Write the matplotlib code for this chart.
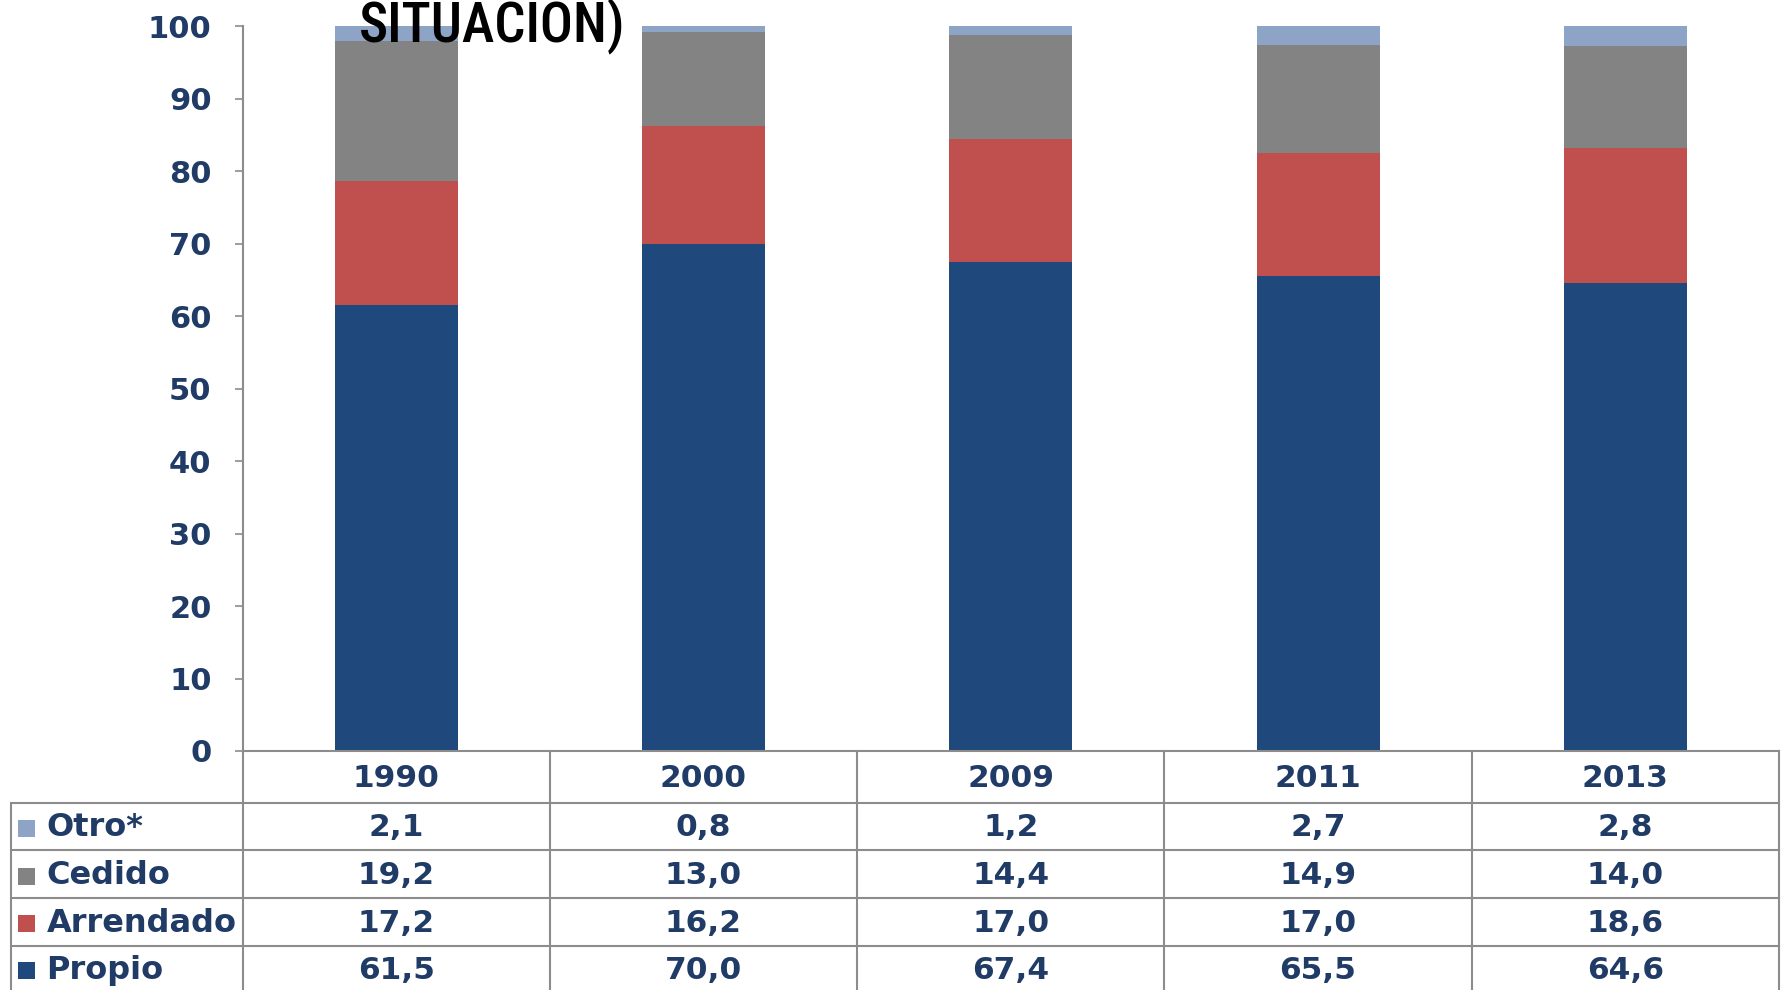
import matplotlib
matplotlib.use("Agg")
import matplotlib.pyplot as plt
from matplotlib import font_manager as fm
from matplotlib.transforms import blended_transform_factory
from matplotlib.patches import Rectangle
from matplotlib.lines import Line2D

# --- data -------------------------------------------------------------
years = ["1990", "2000", "2009", "2011", "2013"]
series_names = ["Propio", "Arrendado", "Cedido", "Otro*"]
propio = [61.5, 70.0, 67.4, 65.5, 64.6]
arrendado = [17.2, 16.2, 17.0, 17.0, 18.6]
cedido = [19.2, 13.0, 14.4, 14.9, 14.0]
otro = [2.1, 0.8, 1.2, 2.7, 2.8]
yticks = [0, 10, 20, 30, 40, 50, 60, 70, 80, 90, 100]
title_text = "SITUACIÓN)"

# --- style ------------------------------------------------------------
colors = {"Propio": "#1F497D", "Arrendado": "#C0504D",
          "Cedido": "#838383", "Otro*": "#8DA4C6"}
text_color = "#1F3B66"
grid_color = "#8C8C8C"
fs = 22.5

W, H, DPI = 1785, 990, 100
fig = plt.figure(figsize=(W / DPI, H / DPI), dpi=DPI)

# axes placement in figure pixels
ax_left, ax_right, ax_zero, ax_top = 242.5, 1779.0, 751.0, 26.2
ax = fig.add_axes([ax_left / W, 1 - ax_zero / H,
                   (ax_right - ax_left) / W, (ax_zero - ax_top) / H])

x = list(range(len(years)))
values = {"Propio": propio, "Arrendado": arrendado,
          "Cedido": cedido, "Otro*": otro}
bottom = [0.0] * len(years)
for name in series_names:
    vals = values[name]
    ax.bar(x, vals, width=0.4, bottom=bottom, color=colors[name],
           edgecolor="none", zorder=2)
    bottom = [b + v for b, v in zip(bottom, vals)]

ax.set_xlim(-0.5, len(years) - 0.5)
ax.set_ylim(0, 100)
ax.set_yticks(yticks)
ax.set_yticklabels([str(t) for t in yticks], fontsize=22, fontweight="bold",
                   color=text_color, family="DejaVu Sans")
ax.tick_params(axis="y", direction="out", length=5.8, width=1.2,
               color=grid_color, pad=16.5)
ax.set_xticks([])
for side in ["top", "right", "bottom"]:
    ax.spines[side].set_visible(False)
ax.spines["left"].set_color(grid_color)
ax.spines["left"].set_linewidth(1.5)

# --- data table below the chart ---------------------------------------
tr = blended_transform_factory(ax.transData, fig.transFigure)


def fy(px):
    return 1 - px / H


left_edge = -1.252
row_lines = [802.6, 850.4, 898.2, 946.0]
header_mid = (ax_zero + row_lines[0]) / 2 + 1.5
row_mids = [828.0, 876.0, 923.5, 970.5]
lw = 1.5

# zero line / header top
fig.add_artist(Line2D([-0.5, len(years) - 0.5], [fy(ax_zero)] * 2,
                      transform=tr, color=grid_color, lw=lw))
for yl in row_lines:
    fig.add_artist(Line2D([left_edge, len(years) - 0.5], [fy(yl)] * 2,
                          transform=tr, color=grid_color, lw=lw))
for xv in [i - 0.5 for i in range(len(years) + 1)]:
    fig.add_artist(Line2D([xv, xv], [fy(ax_zero), fy(H + 5)],
                          transform=tr, color=grid_color, lw=lw))
fig.add_artist(Line2D([left_edge, left_edge], [fy(row_lines[0]), fy(H + 5)],
                      transform=tr, color=grid_color, lw=lw))

for i, yr in enumerate(years):
    fig.text(i, fy(header_mid), yr, transform=tr, ha="center", va="center",
             fontsize=fs, fontweight="bold", color=text_color)

table_order = ["Otro*", "Cedido", "Arrendado", "Propio"]
px_per_unit = (ax_right - ax_left) / len(years)
sq_x = left_edge + 7 / px_per_unit
sq_w = 17 / px_per_unit
txt_x = left_edge + 35 / px_per_unit
for name, ym in zip(table_order, row_mids):
    fig.add_artist(Rectangle((sq_x, fy(ym + 8.5)), sq_w, 17 / H,
                             transform=tr, color=colors[name], lw=0))
    fig.text(txt_x, fy(ym), name, transform=tr, ha="left", va="center",
             fontsize=fs + 0.5, fontweight="bold", color=text_color)
    for i, v in enumerate(values[name]):
        fig.text(i, fy(ym), f"{v:.1f}".replace(".", ","), transform=tr,
                 ha="center", va="center", fontsize=fs, fontweight="bold",
                 color=text_color)

# --- heading fragment at the top --------------------------------------
available = {f.name for f in fm.fontManager.ttflist}
title_family = next((n for n in ["Liberation Sans Narrow", "Roboto Condensed",
                                 "DejaVu Sans"] if n in available), "DejaVu Sans")
fig.text(359 / W, fy(42), title_text, ha="left", va="baseline",
         fontsize=39.5, family=title_family, fontstretch="condensed",
         fontweight="medium", color="black")

fig.savefig("out.png", dpi=DPI)
